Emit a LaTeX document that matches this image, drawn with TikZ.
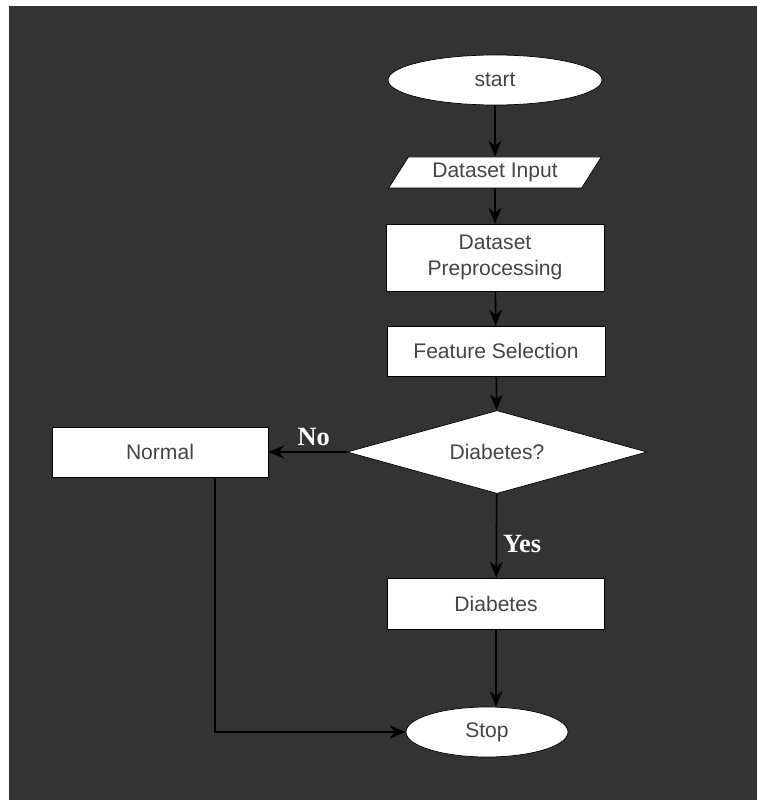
\documentclass[tikz,border=0pt]{standalone}
\usepackage{fontspec}
\setmainfont{Liberation Sans}
\newfontfamily\labelfont{Liberation Serif}
\usepackage{xcolor}
\usepackage{tikz}
\usetikzlibrary{arrows.meta,positioning,shapes.geometric}
\definecolor{bgdark}{HTML}{333333}
\definecolor{txtgray}{HTML}{454545}
\tikzset{
  box/.style={rectangle,draw=black,fill=white,thin,text=txtgray,minimum width=4.36cm,minimum height=1cm,inner sep=2pt,font=\fontsize{12}{14.5}\selectfont,align=center},
  term/.style={ellipse,draw=black,fill=white,thin,text=txtgray,minimum height=1cm,inner sep=0pt,font=\fontsize{12}{14.5}\selectfont},
  io/.style={trapezium,trapezium left angle=53,trapezium right angle=127,trapezium stretches=true,draw=black,fill=white,thin,text=txtgray,minimum width=4.26cm,minimum height=0.62cm,inner sep=0pt,font=\fontsize{12}{14.5}\selectfont},
  decide/.style={diamond,shape aspect=3.6,draw=black,fill=white,thin,text=txtgray,minimum width=6cm,minimum height=1.66cm,inner sep=0pt,font=\fontsize{12}{14.5}\selectfont},
  arr/.style={-{Stealth[length=3.2mm,width=2.6mm]},line width=0.9pt,black},
  lbl/.style={text=white,font=\labelfont\bfseries\fontsize{15}{17}\selectfont},
}
\begin{document}
\begin{tikzpicture}
  % page and dark panel
  \useasboundingbox (0,0) rectangle (15.14,-16);
  \fill[white] (0,0) rectangle (15.14,-16);
  \fill[bgdark] (0.18,-0.12) rectangle (15.14,-16);

  \node[term,minimum width=4.28cm] (start) at (9.9,-1.6){start};
  \node[io] (input) at (9.9,-3.45){Dataset Input};
  \node[box,minimum height=1.34cm] (prep) at (9.9,-5.15){Dataset\\Preprocessing};
  \node[box] (feat) at (9.92,-7.02){Feature Selection};
  \node[decide] (dec) at (9.94,-9.04){Diabetes?};
  \node[box,minimum width=4.32cm] (normal) at (3.2,-9.04){Normal};
  \node[box,minimum width=4.34cm,minimum height=1.02cm] (diab) at (9.92,-12.07){Diabetes};
  \node[term,minimum width=3.24cm] (stop) at (9.74,-14.64){Stop};
  \coordinate (bend) at (4.3,-14.64);

  \draw[arr] (start) -- (input);
  \draw[arr] (input) -- (prep);
  \draw[arr] (prep) -- (feat);
  \draw[arr] (feat) -- (dec);
  \draw[arr] (dec) -- node[lbl,above,pos=0.42]{No} (normal);
  \draw[arr] (dec) -- node[lbl,right,pos=0.6]{Yes} (diab);
  \draw[arr] (diab.south) -- (diab.south |- stop.north);
  \draw[arr] (normal.south -| bend) -- (bend) -- (stop);
\end{tikzpicture}
\end{document}
